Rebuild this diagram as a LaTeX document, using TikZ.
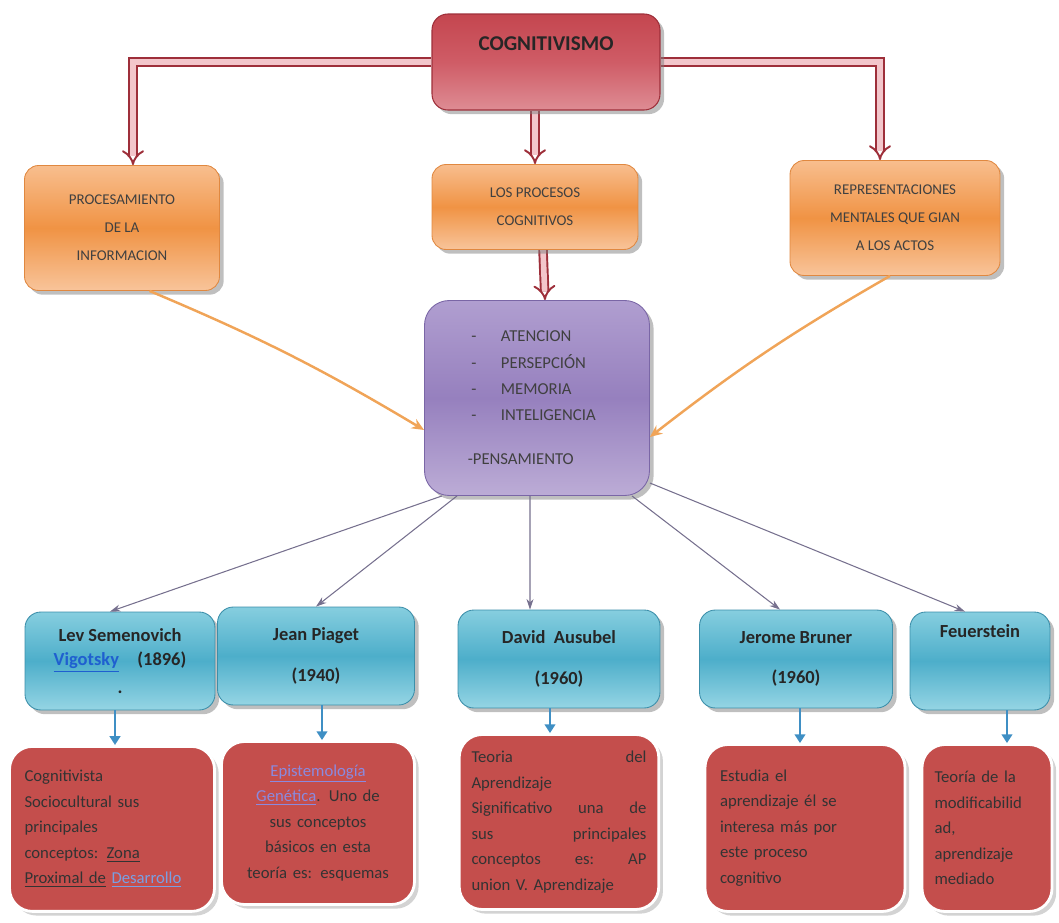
\documentclass[tikz,border=0pt]{standalone}
\usepackage{fontspec}
\setmainfont{Carlito}
\usetikzlibrary{arrows.meta,shadows,backgrounds}

\definecolor{cogedge}{HTML}{9E2F3A}
\definecolor{cogtop}{HTML}{C4464F}
\definecolor{cogmid}{HTML}{CF5C66}
\definecolor{cogbot}{HTML}{DE8C94}
\definecolor{barin}{HTML}{F3C6CB}
\definecolor{oredge}{HTML}{E08840}
\definecolor{ortop}{HTML}{F8BE8E}
\definecolor{ormid}{HTML}{F09344}
\definecolor{orbot}{HTML}{F8C49A}
\definecolor{puedge}{HTML}{7A66A6}
\definecolor{putop}{HTML}{B09ED0}
\definecolor{pumid}{HTML}{9680BE}
\definecolor{pubot}{HTML}{BCACD6}
\definecolor{bledge}{HTML}{3C8FAA}
\definecolor{bltop}{HTML}{86CEDF}
\definecolor{blmid}{HTML}{4DAECA}
\definecolor{blbot}{HTML}{95D5E4}
\definecolor{redfill}{HTML}{C44E4C}
\definecolor{linkblue}{HTML}{1F5FD0}
\definecolor{linklav}{HTML}{8A8ADF}
\definecolor{feedcol}{HTML}{F0A458}
\definecolor{raycol}{HTML}{76708E}
\definecolor{dropcol}{HTML}{3F8FC4}

\begin{document}
\begin{tikzpicture}[
        x=0.02cm, y=-0.02cm,
        titlebox/.style={
            rectangle, rounded corners=9pt, draw=cogedge, line width=0.6pt,
            top color=cogtop, bottom color=cogbot, middle color=cogmid,
            minimum width=4.56cm, minimum height=1.92cm, text depth=0.75cm,
            font=\bfseries\fontsize{12}{14}\selectfont, text=black!85,
            drop shadow
        },
        orbox/.style={
            rectangle, rounded corners=8pt, draw=oredge, line width=0.5pt,
            top color=ortop, bottom color=orbot, middle color=ormid,
            align=center, font=\fontsize{8.5}{16}\selectfont, text=black!75,
            drop shadow
        },
        pubox/.style={
            rectangle, rounded corners=14pt, draw=puedge, line width=0.5pt,
            top color=putop, bottom color=pubot, middle color=pumid,
            align=left, font=\fontsize{9.5}{15}\selectfont, text=black!75,
            minimum width=4.5cm, minimum height=3.9cm,
            drop shadow
        },
        blbox/.style={
            rectangle, rounded corners=9pt, draw=bledge, line width=0.5pt,
            top color=bltop, bottom color=blbot, middle color=blmid,
            align=center, font=\bfseries\fontsize{10.5}{14}\selectfont, text=black!85,
            minimum height=1.96cm,
            drop shadow
        },
        rdbox/.style={
            rectangle, rounded corners=13pt, draw=white, line width=1.6pt,
            fill=redfill, font=\fontsize{9.5}{14.5}\selectfont, text=black!80,
            minimum height=3.3cm, inner sep=7pt,
            drop shadow={opacity=0.35}
        },
        bigarrow/.style={
            draw=cogedge, line width=1.1pt, double=barin, double distance=3.2pt,
            -{Implies[length=7pt, width=14pt]}
        },
        feed/.style={
            draw=feedcol, line width=1.4pt, -{Stealth[length=7pt, width=6pt]}
        },
        ray/.style={
            draw=raycol, line width=0.6pt, -{Stealth[length=6pt, width=4pt]}
        },
        drop/.style={
            draw=dropcol, line width=1.3pt, -{Triangle[length=5pt, width=6pt]}
        }
    ]
        \useasboundingbox (0,0) rectangle (1059,923);

        % top
        \node[titlebox] (cog) at (546,62) {COGNITIVISMO};

        \node[orbox, minimum width=3.9cm, minimum height=2.5cm] (proc) at (122,228)
            {PROCESAMIENTO\\DE LA\\INFORMACION};
        \node[orbox, minimum width=4.12cm, minimum height=1.7cm] (procs) at (535,207)
            {LOS PROCESOS\\COGNITIVOS};
        \node[orbox, minimum width=4.2cm, minimum height=2.3cm] (repr) at (895,218)
            {REPRESENTACIONES\\MENTALES QUE GIAN\\A LOS ACTOS};

        \node[pubox] (pur) at (537,398)
            {\hspace*{-4pt}-\hspace{14pt}ATENCION\\
             \hspace*{-4pt}-\hspace{14pt}PERSEPCIÓN\\
             \hspace*{-4pt}-\hspace{14pt}MEMORIA\\
             \hspace*{-4pt}-\hspace{14pt}INTELIGENCIA\\[10pt]
             \hspace*{-6pt}-PENSAMIENTO};

        % authors
        \node[blbox, minimum width=3.8cm] (lev) at (120,661)
            {Lev Semenovich\\\textcolor{linkblue}{\underline{Vigotsky}}\quad(1896)\\[2pt].};
        \node[blbox, minimum width=3.94cm] (pia) at (316,656)
            {Jean Piaget\\[9pt](1940)};
        \node[blbox, minimum width=4.04cm] (aus) at (559,659)
            {David\ \ Ausubel\\[9pt](1960)};
        \node[blbox, minimum width=3.86cm] (bru) at (796,659)
            {Jerome Bruner\\[9pt](1960)};
        \node[blbox, minimum width=2.8cm, text depth=1.2cm] (feu) at (980,661)
            {Feuerstein};

        % descriptions
        \node[rdbox, minimum width=4.1cm, text width=3.5cm, align=left, anchor=north] (levt) at (112,745)
            {Cognitivista\\Sociocultural sus\\principales\\conceptos: \underline{Zona}\\\underline{Proximal de} \textcolor{linkblue!60}{\underline{Desarrollo}}};
        \node[rdbox, minimum width=3.86cm, minimum height=3.26cm, text width=3.3cm, align=center] (piat) at (318,823)
            {\textcolor{linklav}{\underline{Epistemología}}\\\textcolor{linklav}{\underline{Genética}}. Uno de\\sus conceptos\\básicos en esta\\teoría es: esquemas};
        \node[rdbox, minimum width=3.96cm, minimum height=3.5cm, text width=3.5cm, align=left] (aust) at (559,822)
            {\makebox[3.5cm]{Teoria\hfill del}\\Aprendizaje\\\makebox[3.5cm]{Significativo\hfill una\hfill de}\\\makebox[3.5cm]{sus\hfill principales}\\\makebox[3.5cm]{conceptos\hfill es:\hfill AP}\\union V. Aprendizaje};
        \node[rdbox, minimum width=4.0cm, minimum height=3.34cm, text width=3.4cm, align=left] (brut) at (805,828)
            {Estudia el\\aprendizaje él se\\interesa más por\\este proceso\\cognitivo};
        \node[rdbox, minimum width=2.6cm, minimum height=3.34cm, text width=2.1cm, align=left] (feut) at (987,828)
            {Teoría de la\\modificabilid\\ad,\\aprendizaje\\mediado};

        % connectors
        \begin{scope}[on background layer]
            \draw[bigarrow] (cog) -| ([xshift=0.22cm]proc.north);
            \draw[bigarrow] (cog) -| ([xshift=-0.3cm]repr.north);
            \draw[bigarrow] (procs.north |- cog.south) -- (procs.north);
            \draw[bigarrow] ([xshift=0.16cm]procs.south) -- ([xshift=0.16cm]pur.north);
        \end{scope}

        \draw[feed] ([xshift=0.55cm]proc.south) to[bend left=4] ([yshift=-0.64cm]pur.west);
        \draw[feed] ([xshift=-0.1cm]repr.south) to[bend right=4] ([yshift=-0.78cm]pur.east);

        \draw[ray] ([xshift=-1.9cm]pur.south) -- ([xshift=-0.2cm]lev.north);
        \draw[ray] ([xshift=-1.6cm]pur.south) -- (pia.north);
        \draw[ray] ([xshift=-0.14cm]pur.south) -- ([xshift=-0.58cm]aus.north);
        \draw[ray] ([xshift=1.9cm]pur.south) -- ([xshift=-0.32cm]bru.north);
        \draw[ray] ([yshift=-1.7cm]pur.east) -- ([xshift=-0.3cm]feu.north);

        \coordinate (levin) at ([xshift=-0.1cm]lev.south);
        \coordinate (piain) at ([xshift=0.12cm]pia.south);
        \coordinate (ausin) at ([xshift=-0.18cm]aus.south);
        \coordinate (bruin) at ([xshift=0.08cm]bru.south);
        \coordinate (feuin) at ([xshift=0.54cm]feu.south);
        \draw[drop] (levin) -- (levin |- levt.north);
        \draw[drop] (piain) -- (piain |- piat.north);
        \draw[drop] (ausin) -- (ausin |- aust.north);
        \draw[drop] (bruin) -- (bruin |- brut.north);
        \draw[drop] (feuin) -- (feuin |- feut.north);

    \end{tikzpicture}
\end{document}
